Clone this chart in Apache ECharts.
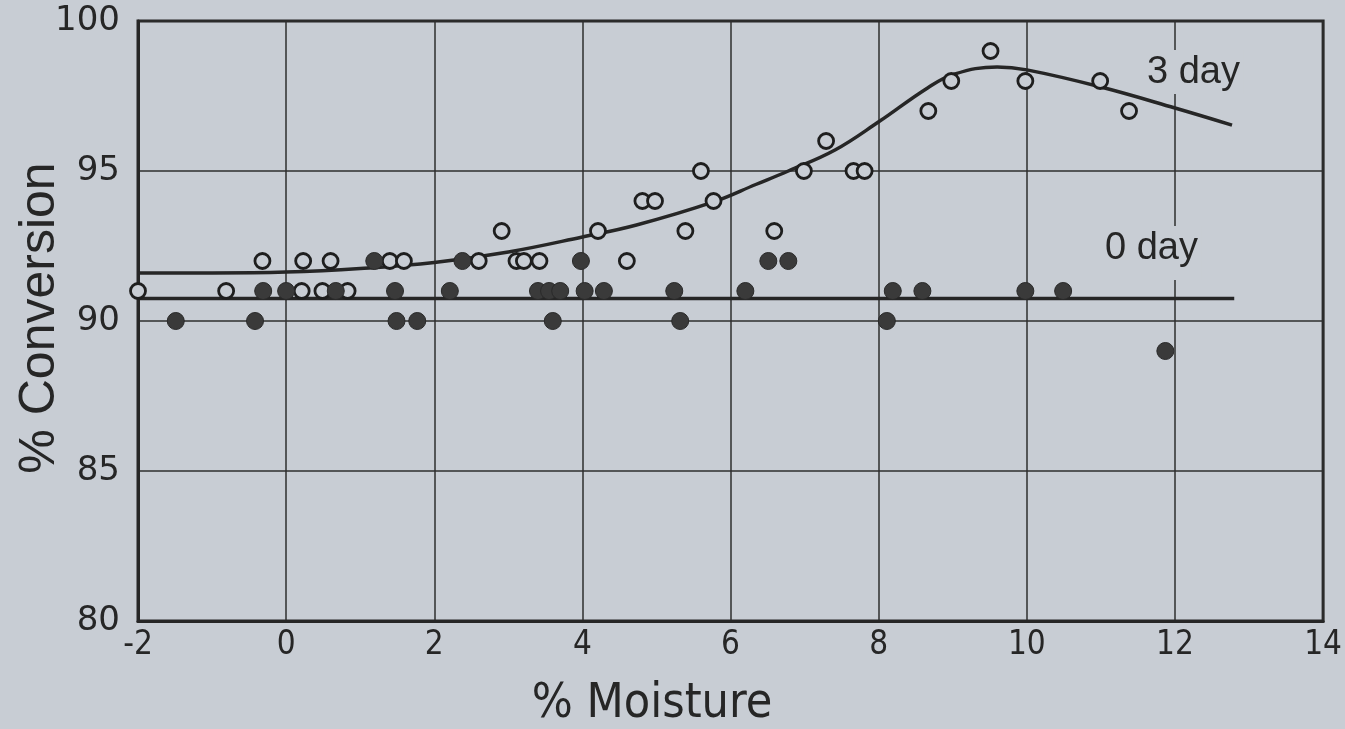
<!DOCTYPE html>
<html><head><meta charset="utf-8">
<script src="https://cdn.jsdelivr.net/npm/echarts@6/dist/echarts.min.js"></script>
<style>html,body{margin:0;padding:0;background:#c8cdd4}#c{width:1345px;height:729px}</style>
</head><body><div id="c"></div>
<script>
const BG = '#c8cdd4';
const INK = '#262626';
const xTicks = [-2, 0, 2, 4, 6, 8, 10, 12, 14];
const yTicks = [80, 85, 90, 95, 100];

// 3 day (open circles)
const threeDayPoints = [
  [-2.00, 91], [-0.81, 91], [0.21, 91], [0.49, 91], [0.83, 91],
  [-0.32, 92], [0.23, 92], [0.60, 92], [1.40, 92], [1.59, 92], [2.60, 92], [3.11, 92], [3.21, 92], [3.42, 92], [4.60, 92],
  [2.91, 93], [4.21, 93], [5.39, 93], [6.59, 93],
  [4.81, 94], [4.98, 94], [5.77, 94],
  [5.60, 95], [6.99, 95], [7.66, 95], [7.81, 95],
  [7.29, 96],
  [8.67, 97], [11.38, 97],
  [8.98, 98], [9.98, 98], [10.99, 98],
  [9.51, 99]
];
// 0 day (filled circles)
const zeroDayPoints = [
  [-0.31, 91], [0.00, 91], [0.67, 91], [1.47, 91], [2.21, 91], [3.40, 91], [3.55, 91], [3.70, 91],
  [4.03, 91], [4.29, 91], [5.24, 91], [6.20, 91], [8.19, 91], [8.59, 91], [9.98, 91], [10.49, 91],
  [-1.49, 90], [-0.42, 90], [1.49, 90], [1.77, 90], [3.60, 90], [5.32, 90], [8.11, 90],
  [1.19, 92], [2.38, 92], [3.98, 92], [6.51, 92], [6.78, 92],
  [11.87, 89]
];
// fitted curves
const threeDayCurve = [
  [-2, 91.6], [-1, 91.6], [0, 91.63], [1, 91.75], [2, 91.95], [3, 92.3], [4, 92.8], [4.73, 93.2],
  [5.77, 93.97], [6.34, 94.55], [6.78, 95.0], [7.41, 95.7], [8, 96.64], [8.66, 97.77], [9.02, 98.23],
  [9.6, 98.47], [10, 98.37], [11, 97.8], [12, 97.1], [12.77, 96.53]
];
const zeroDayLine = [[-2, 90.75], [12.8, 90.75]];

const chart = echarts.init(document.getElementById('c'));
chart.setOption({
  backgroundColor: BG,
  animation: false,
  grid: { left: 138, right: 13, top: 21, bottom: 108, show: true, borderColor: INK, borderWidth: 3, backgroundColor: 'transparent' },
  xAxis: {
    type: 'value', min: xTicks[0], max: xTicks[xTicks.length - 1], interval: 2,
    axisLine: { show: true, onZero: false, lineStyle: { color: INK, width: 3 } },
    axisTick: { show: false },
    splitLine: { show: true, lineStyle: { color: '#2e2e2e', width: 1.5 } },
    axisLabel: { margin: 8, fontSize: 33, color: INK, fontFamily: 'Liberation Sans Narrow, DejaVu Sans Condensed, Liberation Sans' }
  },
  yAxis: {
    type: 'value', min: yTicks[0], max: yTicks[yTicks.length - 1], interval: 5,
    axisLine: { show: true, onZero: false, lineStyle: { color: INK, width: 3 } },
    axisTick: { show: false },
    splitLine: { show: true, lineStyle: { color: '#2e2e2e', width: 1.5 } },
    axisLabel: { margin: 18, fontSize: 34, color: INK, fontFamily: 'DejaVu Sans' }
  },
  series: [
    { type: 'line', data: threeDayCurve, smooth: 0.4, symbol: 'none', lineStyle: { color: INK, width: 3.5 }, z: 3 },
    { type: 'line', data: zeroDayLine, symbol: 'none', lineStyle: { color: INK, width: 3.5 }, z: 3 },
    { type: 'scatter', data: threeDayPoints, symbol: 'circle', symbolSize: 15, clip: false,
      itemStyle: { color: BG, borderColor: '#1e1e1e', borderWidth: 2.8, opacity: 1 }, z: 5 },
    { type: 'scatter', data: zeroDayPoints, symbol: 'circle', symbolSize: 17, clip: false,
      itemStyle: { color: '#3a3a3a', borderColor: '#2a2a2a', borderWidth: 1, opacity: 1 }, z: 6 }
  ],
  graphic: [
    { type: 'text', left: 1143, top: 50, z: 1, style: { text: '3 day', fontSize: 38, fill: INK, fontFamily: 'Liberation Sans', backgroundColor: BG, padding: [4, 4, 2, 4] } },
    { type: 'text', left: 1101, top: 226, z: 1, style: { text: '0 day', fontSize: 38, fill: INK, fontFamily: 'Liberation Sans', backgroundColor: BG, padding: [4, 4, 12, 4] } },
    { type: 'text', x: 40, y: 318, rotation: Math.PI / 2, z: 10, style: { text: '% Conversion', fontSize: 50, fill: INK, fontFamily: 'Liberation Sans', align: 'center', verticalAlign: 'middle' } },
    { type: 'text', x: 652, y: 705, z: 10, style: { text: '% Moisture', fontSize: 48, fill: INK, fontFamily: 'Liberation Sans Narrow, DejaVu Sans Condensed, Liberation Sans', align: 'center', verticalAlign: 'middle' } }
  ]
});
</script>
</body></html>
